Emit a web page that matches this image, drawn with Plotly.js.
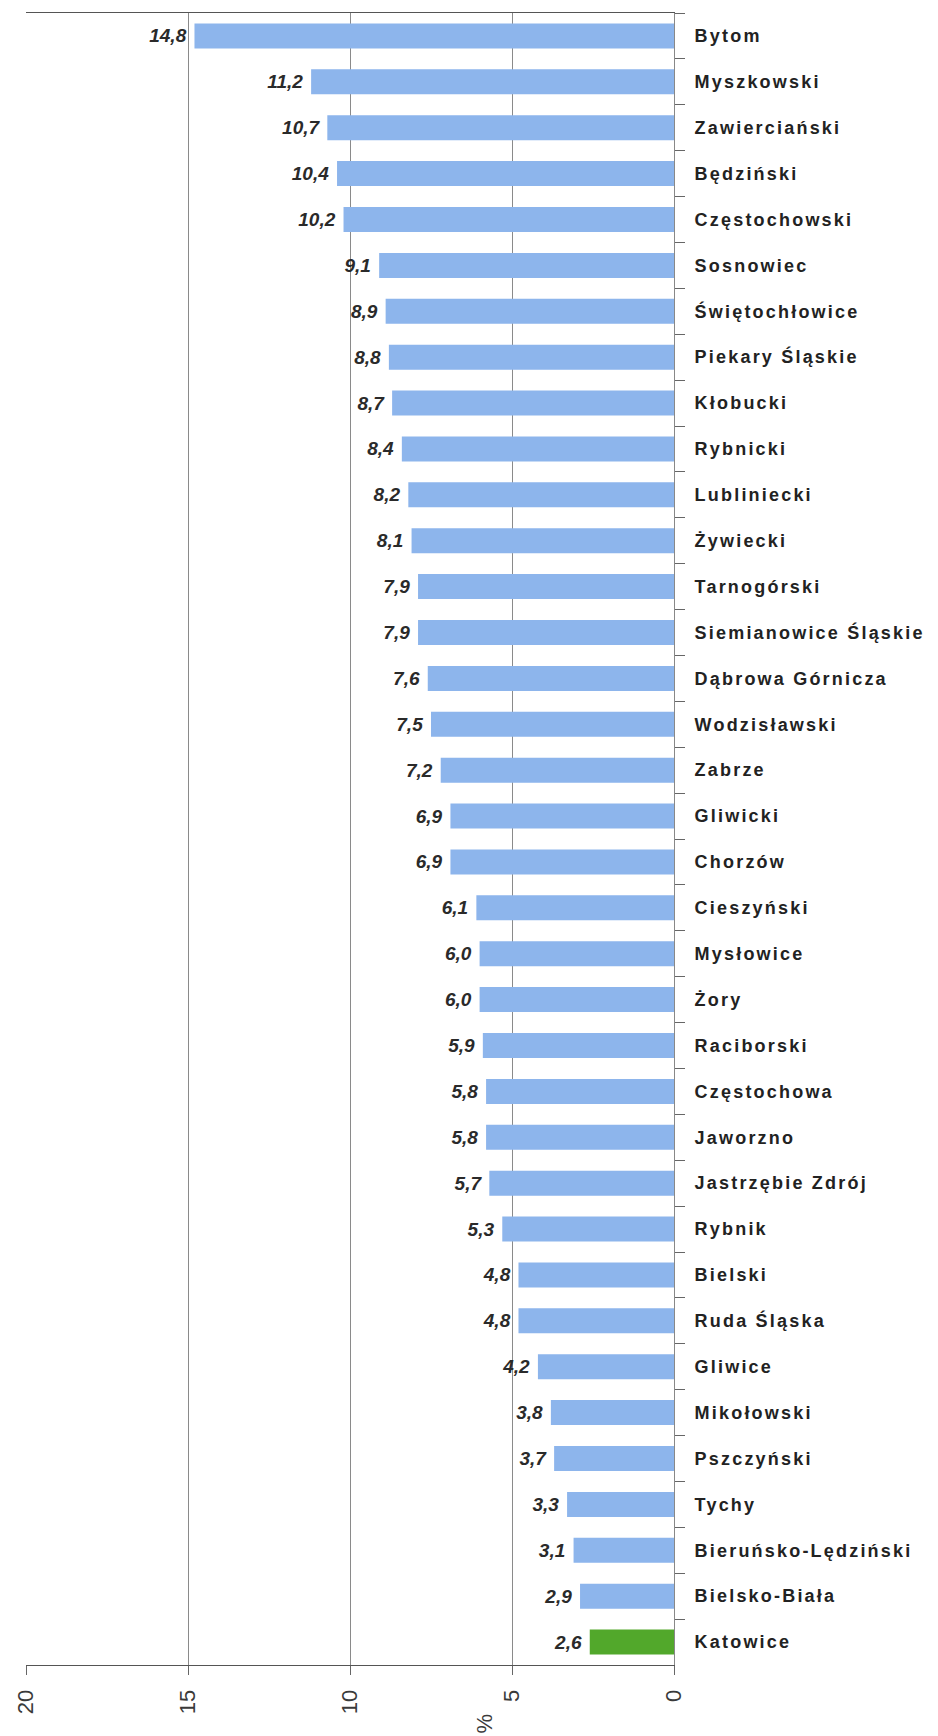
<!DOCTYPE html>
<html><head><meta charset="utf-8">
<script src="https://cdn.plot.ly/plotly-3.0.1.min.js"></script>
<style>html,body{margin:0;padding:0;background:#fff}#chart{width:938px;height:1736px}
#chart g.ytick text{letter-spacing:2.2px}</style>
</head><body><div id="chart"></div>
<script>
const categories = ["Bytom","Myszkowski","Zawierciański","Będziński","Częstochowski","Sosnowiec","Świętochłowice","Piekary Śląskie","Kłobucki","Rybnicki","Lubliniecki","Żywiecki","Tarnogórski","Siemianowice Śląskie","Dąbrowa Górnicza","Wodzisławski","Zabrze","Gliwicki","Chorzów","Cieszyński","Mysłowice","Żory","Raciborski","Częstochowa","Jaworzno","Jastrzębie Zdrój","Rybnik","Bielski","Ruda Śląska","Gliwice","Mikołowski","Pszczyński","Tychy","Bieruńsko-Lędziński","Bielsko-Biała","Katowice"];
const values = [14.8,11.2,10.7,10.4,10.2,9.1,8.9,8.8,8.7,8.4,8.2,8.1,7.9,7.9,7.6,7.5,7.2,6.9,6.9,6.1,6.0,6.0,5.9,5.8,5.8,5.7,5.3,4.8,4.8,4.2,3.8,3.7,3.3,3.1,2.9,2.6];
const xTicks = [0,5,10,15,20];
const highlight = "Katowice";

const colors = categories.map(c => c === highlight ? "#52A82B" : "#8DB5EC");

const trace = {
  type: "bar",
  orientation: "h",
  x: values,
  y: categories,
  marker: {color: colors, line: {width: 0}},
  texttemplate: "%{x:.1f}\u00A0",
  textposition: "outside",
  cliponaxis: false,
  textfont: {family: "Liberation Sans, Arial, sans-serif", size: 19, color: "#2a2a2a", weight: "bold", style: "italic"},
  hoverinfo: "skip"
};

const layout = {
  width: 938, height: 1736,
  margin: {l: 26, r: 264, t: 13, b: 71},
  paper_bgcolor: "#fff", plot_bgcolor: "#fff",
  separators: ", ",
  bargap: 0.455,
  showlegend: false,
  xaxis: {
    range: [20, 0],
    tickvals: xTicks,
    ticktext: xTicks.map(String),
    tickangle: -90,
    showgrid: true, gridcolor: "#8a8a8a", gridwidth: 1,
    zeroline: false,
    showline: true, linecolor: "#555", linewidth: 1, mirror: true,
    ticks: "outside", ticklen: 9, tickcolor: "#666",
    ticklabelstandoff: 6,
    tickfont: {family: "Liberation Sans, Arial, sans-serif", size: 22, color: "#3a3a3a"}
  },
  yaxis: {
    autorange: "reversed",
    side: "right",
    ticks: "outside", ticklen: 10, tickcolor: "#666",
    tickson: "boundaries",
    showgrid: false,
    showline: true, linecolor: "#888", linewidth: 1,
    ticklabelstandoff: 16,
    tickfont: {family: "Liberation Sans, Arial, sans-serif", size: 18, color: "#222", weight: "bold"}
  },
  annotations: [{
    text: "%", xref: "paper", yref: "paper", x: 0.708, y: -0.0355,
    yanchor: "middle", xanchor: "center",
    showarrow: false, textangle: -90,
    font: {family: "Liberation Sans, Arial, sans-serif", size: 22, color: "#3a3a3a"}
  }]
};

Plotly.newPlot("chart", [trace], layout, {staticPlot: true, displayModeBar: false});
</script>
</body></html>
